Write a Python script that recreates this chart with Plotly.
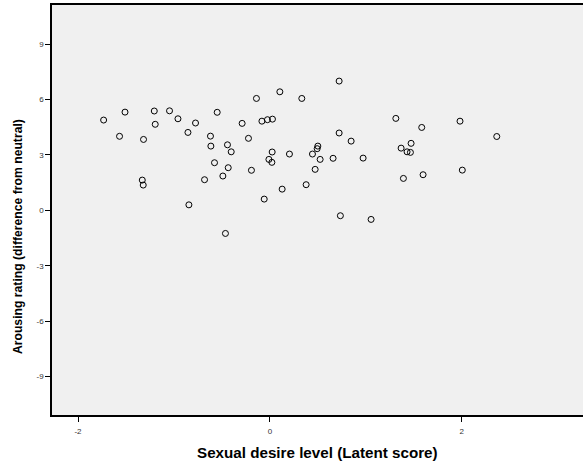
import plotly.graph_objects as go

# Latent sexual desire score for each participant
desire_score = [
    -1.733, -1.510, -1.567, -1.317, -1.330, -1.320, -1.205, -1.195, -1.046, -0.958,
    -0.854, -0.775, -0.844, -0.681, -0.619, -0.615, -0.577, -0.549, -0.490, -0.442,
    -0.403, -0.434, -0.463, -0.289, -0.223, -0.192, -0.140, -0.083, -0.025, 0.027,
    -0.059, -0.010, 0.024, 0.021, 0.104, 0.128, 0.204, 0.333, 0.722, 0.378,
    0.444, 0.500, 0.493, 0.524, 0.472, 0.659, 0.722, 0.847, 0.972, 0.735,
    1.055, 1.313, 1.583, 1.368, 1.472, 1.430, 1.465, 1.392, 1.597, 1.982,
    2.006, 2.365,
]

# Arousal rating relative to the neutral condition
arousal_diff = [
    4.89, 5.32, 4.01, 3.84, 1.64, 1.37, 5.38, 4.66, 5.39, 4.96,
    4.22, 4.73, 0.30, 1.66, 4.02, 3.48, 2.58, 5.31, 1.86, 3.55,
    3.17, 2.31, -1.25, 4.71, 3.90, 2.17, 6.06, 4.83, 4.91, 4.94,
    0.61, 2.76, 3.16, 2.60, 6.42, 1.15, 3.05, 6.06, 7.00, 1.39,
    3.05, 3.48, 3.34, 2.76, 2.22, 2.82, 4.19, 3.75, 2.83, -0.29,
    -0.49, 4.98, 4.49, 3.37, 3.63, 3.17, 3.14, 1.73, 1.93, 4.83,
    2.18, 4.00,
]

x_ticks = [-2, 0, 2]
y_ticks = [-9, -6, -3, 0, 3, 6, 9]

x_title = "Sexual desire level (Latent score)"
y_title = "Arousing rating (difference from neutral)"

FONT = "Arial, Liberation Sans, sans-serif"

fig = go.Figure(
    go.Scatter(
        x=desire_score,
        y=arousal_diff,
        mode="markers",
        marker=dict(symbol="circle-open", size=6, color="black",
                    line=dict(width=1, color="black")),
        hoverinfo="x+y",
    )
)

axis_common = dict(
    showgrid=False,
    zeroline=False,
    showline=True,
    linecolor="black",
    linewidth=1.5,
    ticks="outside",
    ticklen=5,
    tickwidth=1,
    tickcolor="black",
    tickfont=dict(family=FONT, size=8, color="#333333"),
)

fig.update_xaxes(
    **axis_common,
    range=[-2.271, 3.264],
    tickvals=x_ticks,
    ticktext=[str(v) for v in x_ticks],
    ticklabelstandoff=3,
    mirror=True,
)
fig.update_yaxes(
    **axis_common,
    range=[-11.08, 11.12],
    tickvals=y_ticks,
    ticktext=[str(v) for v in y_ticks],
)

# Axis titles placed as annotations so their position can be set precisely
fig.add_annotation(
    text=f"<b>{x_title}</b>", xref="paper", yref="paper",
    x=0.5, y=-0.092, xanchor="center", yanchor="middle",
    showarrow=False, font=dict(family=FONT, size=15.2, color="black"),
)
fig.add_annotation(
    text=f"<b>{y_title}</b>", xref="paper", yref="paper",
    x=-0.064, y=0.434, xanchor="center", yanchor="middle", textangle=-90,
    showarrow=False, font=dict(family=FONT, size=12.2, color="black"),
)

fig.update_layout(
    width=583,
    height=468,
    margin=dict(l=52, r=0, t=5, b=53, autoexpand=False),
    paper_bgcolor="white",
    plot_bgcolor="#F0F0F0",
    showlegend=False,
)

fig.write_html("out.html")
